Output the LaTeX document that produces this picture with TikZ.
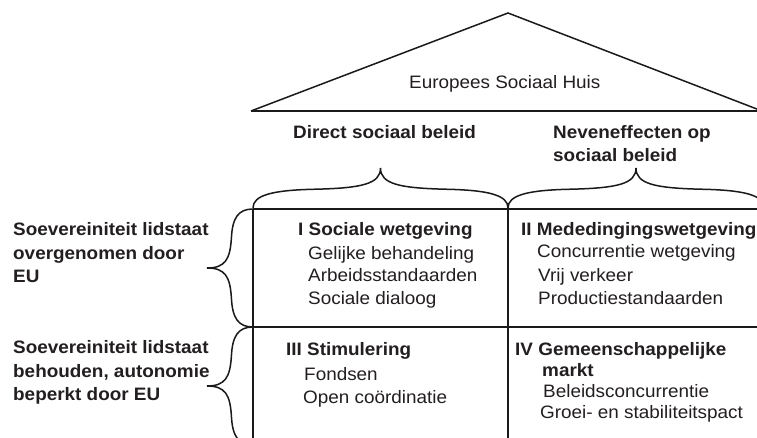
\documentclass[tikz,border=0pt]{standalone}
\usepackage{fontspec}
\setmainfont{Liberation Sans}[FakeStretch=1.05]
\definecolor{ink}{HTML}{231F20}
\definecolor{linecol}{HTML}{1A1A1A}
\newcommand\bp[2]{({\bx+(#1)*(\bLx)+(#2)*(\bHx)},{\by+(#1)*(\bLy)+(#2)*(\bHy)})}
\newcommand\drawbrace[6]{%
  \def\bx{#1}\def\by{#2}\def\bLx{#3}\def\bLy{#4}\def\bHx{#5}\def\bHy{#6}%
  \draw[bracestyle] \bp{0}{0} .. controls \bp{0}{0.32} and \bp{0.15}{0.45} .. \bp{0.5}{0.47}
    .. controls \bp{0.85}{0.5} and \bp{1}{0.6} .. \bp{1}{1}
    .. controls \bp{1}{0.6} and \bp{1.15}{0.5} .. \bp{1.5}{0.47}
    .. controls \bp{1.85}{0.45} and \bp{2}{0.32} .. \bp{2}{0};}
\begin{document}
\begin{tikzpicture}[x=1pt,y=-1pt,
  txt/.style={anchor=base west,inner sep=0pt,text=ink,font=\fontsize{18}{21}\selectfont},
  btxt/.style={anchor=base west,inner sep=0pt,text=ink,font=\fontsize{18}{21}\selectfont\bfseries},
  bracestyle/.style={draw=linecol,line width=1.5pt},
  roofline/.style={draw=linecol,line width=1.5pt,line join=miter},
  gridline/.style={draw=linecol,line width=1.8pt}]
\useasboundingbox (0,0) rectangle (757,438);
\clip (0,0) rectangle (757,438);
\fill[white] (0,0) rectangle (757,438);
% roof
\coordinate (rl) at (251,111);
\coordinate (rt) at (508,13);
\coordinate (rr) at (762,111);
\draw[roofline] (rl) -- (rt) -- (rr);
\draw[draw=linecol,line width=2.4pt] (rl) -- (rr);
% grid
\coordinate (g1) at (253,209);
\coordinate (g2) at (508,209);
\coordinate (g3) at (760,209);
\coordinate (g4) at (253,327);
\coordinate (g5) at (760,327);
\coordinate (g6) at (253,440);
\coordinate (g7) at (508,440);
\draw[gridline] (g1) -- (g3);
\draw[gridline] (g4) -- (g5);
\draw[gridline] (g1) -- (g6);
\draw[gridline] (g2) -- (g7);
% braces
\drawbrace{253}{208}{127.5}{0}{0}{-40}
\drawbrace{508}{208}{128}{0}{0}{-40}
\drawbrace{253}{209}{0}{59}{-46}{0}
\drawbrace{253}{327}{0}{59}{-46}{0}
% texts
\node[txt] (roof) at (409,89) {Europees Sociaal Huis};
\node[btxt] (c1) at (293,139) {Direct sociaal beleid};
\node[btxt] (c2a) at (553,139) {Neveneffecten op};
\node[btxt] (c2b) at (553,162) {sociaal beleid};
\node[btxt] (r1a) at (13,236) {Soevereiniteit lidstaat};
\node[btxt] (r1b) at (13,259) {overgenomen door};
\node[btxt] (r1c) at (13,282) {EU};
\node[btxt] (r2a) at (13,353) {Soevereiniteit lidstaat};
\node[btxt] (r2b) at (13,377) {behouden, autonomie};
\node[btxt] (r2c) at (13,400) {beperkt door EU};
\node[btxt] (q1t) at (298,236) {I Sociale wetgeving};
\node[txt] (q1a) at (308,259) {Gelijke behandeling};
\node[txt] (q1b) at (308,281.5) {Arbeidsstandaarden};
\node[txt] (q1c) at (308,304) {Sociale dialoog};
\node[btxt] (q2t) at (521,236) {II Mededingingswetgeving};
\node[txt] (q2a) at (537,258) {Concurrentie wetgeving};
\node[txt] (q2b) at (538,281.5) {Vrij verkeer};
\node[txt] (q2c) at (538,304) {Productiestandaarden};
\node[btxt] (q3t) at (286,355) {III Stimulering};
\node[txt] (q3a) at (304,380) {Fondsen};
\node[txt] (q3b) at (303,403) {Open coördinatie};
\node[btxt] (q4t) at (515,355) {IV Gemeenschappelijke};
\node[btxt] (q4m) at (542,376) {markt};
\node[txt] (q4a) at (543,397) {Beleidsconcurrentie};
\node[txt] (q4b) at (540,418) {Groei- en stabiliteitspact};
\end{tikzpicture}
\end{document}
